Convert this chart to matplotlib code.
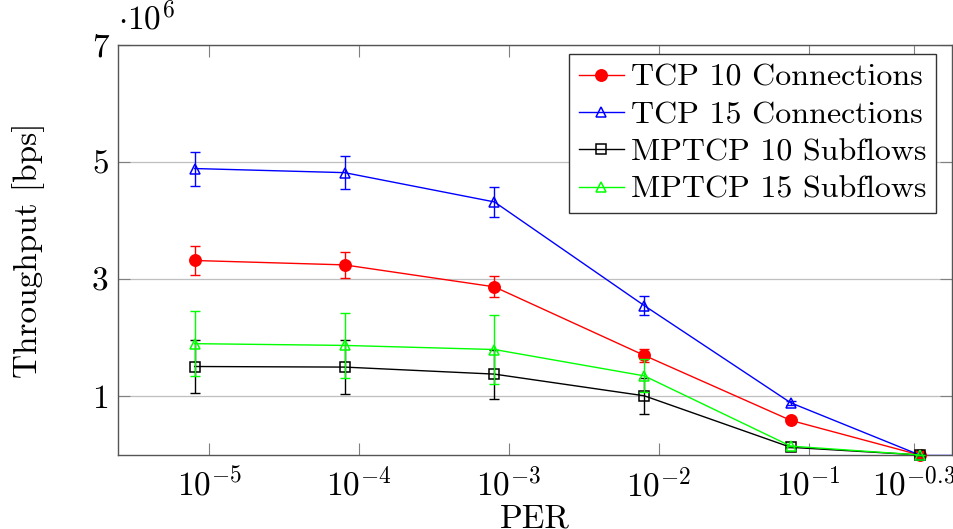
import numpy as np
import matplotlib.pyplot as plt
from matplotlib.ticker import FixedLocator, FixedFormatter, NullLocator

plt.rcParams['font.family'] = 'serif'
plt.rcParams['font.serif'] = ['cmr10']
plt.rcParams['mathtext.fontset'] = 'cm'
plt.rcParams['axes.unicode_minus'] = False

# PER values (x) and throughput in units of 1e6 bps
per = [8e-6, 8e-5, 8e-4, 8e-3, 0.076, 0.55]
per_blue = [8e-6, 8e-5, 8e-4, 8e-3, 0.076, 0.55, 1.0]

tcp10 = [3.32, 3.245, 2.87, 1.70, 0.59, 0.0]
tcp10_err = [0.24, 0.225, 0.18, 0.105, 0.0, 0.0]

tcp15 = [4.89, 4.82, 4.32, 2.55, 0.89, 0.0, 0.0]
tcp15_err = [0.29, 0.28, 0.25, 0.16, 0.03, 0.0, 0.0]

mptcp10 = [1.51, 1.50, 1.38, 1.01, 0.13, 0.0]
mptcp10_err = [0.45, 0.46, 0.42, 0.31, 0.0, 0.0]

mptcp15 = [1.90, 1.87, 1.80, 1.35, 0.15, 0.0]
mptcp15_err = [0.55, 0.56, 0.59, 0.28, 0.0, 0.0]

xticks = [1e-5, 1e-4, 1e-3, 1e-2, 1e-1, 10 ** -0.3]
xticklabels = ['$10^{-5}$', '$10^{-4}$', '$10^{-3}$', '$10^{-2}$', '$10^{-1}$', '$10^{-0.3}$']
yticks = [1, 3, 5, 7]

fig = plt.figure(figsize=(9.54, 5.29), dpi=100)
ax = fig.add_axes([0.124, 0.140, 0.8736, 0.775])

series = [
    (per, tcp10, tcp10_err, (1, 0, 0), 'o', 'TCP 10 Connections', 8.2, 'full'),
    (per_blue[:6], tcp15[:6], tcp15_err[:6], (0, 0, 1), '^', 'TCP 15 Connections', 7.5, 'none'),
    (per, mptcp10, mptcp10_err, (0, 0, 0), 's', 'MPTCP 10 Subflows', 7.8, 'none'),
    (per, mptcp15, mptcp15_err, (0, 1, 0), '^', 'MPTCP 15 Subflows', 7.5, 'none'),
]

for i, (x, y, e, c, m, lab, ms, fill) in enumerate(series):
    z = 3 + i
    ax.plot(x, y, color=c, lw=1.0, marker=m, ms=ms,
            mfc=c if fill == 'full' else 'none', mec=c, mew=1.1,
            label=lab, clip_on=False, zorder=z)
    ax.errorbar(x, y, yerr=e, fmt='none', ecolor=c, elinewidth=1.0,
                capsize=3.9, capthick=1.0, clip_on=False, zorder=z)

# blue tail continues beyond the last tick
ax.plot(per_blue[-2:], tcp15[-2:], color=(0, 0, 1), lw=1.0, zorder=4)

ax.set_xscale('log')
ax.set_xlim(10 ** -5.607, 10 ** -0.045)
ax.set_ylim(0, 7)

ax.xaxis.set_major_locator(FixedLocator(xticks))
ax.xaxis.set_major_formatter(FixedFormatter(xticklabels))
ax.xaxis.set_minor_locator(NullLocator())
ax.yaxis.set_major_locator(FixedLocator(yticks))
ax.yaxis.set_major_formatter(FixedFormatter([str(v) for v in yticks]))

ax.tick_params(axis='both', which='major', direction='in', length=8.4,
               width=0.8, color='#808080', labelsize=24,
               top=True, right=True)
ax.tick_params(axis='x', pad=9)
ax.tick_params(axis='y', pad=7)

ax.grid(axis='y', color='#bfbfbf', lw=0.9)
ax.set_axisbelow(True)
for s in ax.spines.values():
    s.set_color('#555555')
    s.set_linewidth(1.0)

ax.set_xlabel('PER', fontsize=24, labelpad=1)
ax.set_ylabel('Throughput [bps]', fontsize=24, labelpad=34)
ax.text(0.0, 1.022, r'$\cdot10^{6}$', transform=ax.transAxes,
        fontsize=24, ha='left', va='bottom')

leg = ax.legend(loc='upper right', bbox_to_anchor=(0.981, 0.978),
                fontsize=23, frameon=True, fancybox=False,
                framealpha=1, edgecolor='#333333', borderaxespad=0,
                handlelength=1.4, handletextpad=0.22, labelspacing=0.28,
                borderpad=0.3)
leg.get_frame().set_linewidth(1.0)

fig.savefig('out.png', dpi=100)
